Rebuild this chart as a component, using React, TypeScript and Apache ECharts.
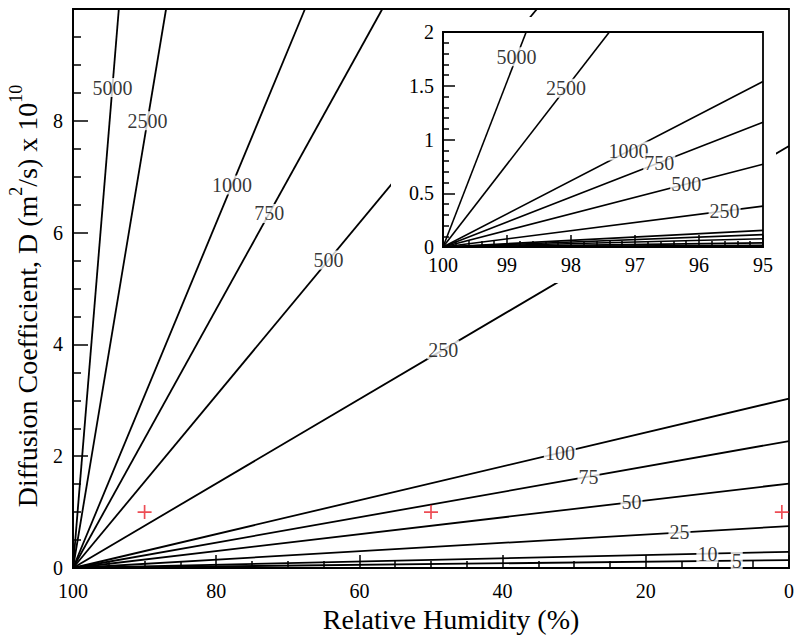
import React, { useEffect, useRef } from "react";
import * as echarts from "echarts";

// Contour levels (labels of the lines)
const levels = ["5000", "2500", "1000", "750", "500", "250", "100", "75", "50", "25", "10", "5"];
// Main panel: where each line leaves the frame (RH %, D x 1e10)
const mainEndRH = [93.6, 87.0, 67.6, 56.8, 35.2, 0, 0, 0, 0, 0, 0, 0];
const mainEndD = [10, 10, 10, 10, 10, 7.55, 3.03, 2.27, 1.51, 0.75, 0.29, 0.14];
// Main panel: RH at which each label sits on its line
const mainLabelRH = [94.5, 89.6, 77.8, 72.6, 64.3, 48.3, 32, 28, 22, 15.3, 11.4, 7.3];
// Inset panel: end of each line
const insetEndRH = [98.7, 97.4, 95, 95, 95, 95, 95, 95, 95, 95, 95, 95];
const insetEndD = [2, 2, 1.54, 1.16, 0.77, 0.38, 0.155, 0.115, 0.077, 0.038, 0.015, 0.008];
// Inset labels (first six levels)
const insetLabelRH = [98.85, 98.08, 97.1, 96.62, 96.2, 95.6];
// Red markers
const markerRH = [90, 50, 1];
const markerD = [1, 1, 1];

const START_RH = 100;
const START_D = 0;
const SERIF = "Liberation Serif";

function dOnLine(endRH: number, endD: number, rh: number) {
  return START_D + ((endD - START_D) * (START_RH - rh)) / (START_RH - endRH);
}

export default function App() {
  const ref = useRef<HTMLDivElement>(null);
  useEffect(() => {
    if (!ref.current) return;
    const chart = echarts.init(ref.current, null, { renderer: "svg" });

    const lineStyle = { color: "#000", width: 1.8 };
    const series: any[] = [];

    levels.forEach((lv, i) => {
      series.push({
        type: "line",
        xAxisIndex: 0,
        yAxisIndex: 0,
        data: [
          [START_RH, START_D],
          [mainEndRH[i], mainEndD[i]],
        ],
        showSymbol: false,
        symbol: "none",
        lineStyle,
        clip: true,
        z: 2,
        silent: true,
      });
      series.push({
        type: "line",
        xAxisIndex: 1,
        yAxisIndex: 1,
        data: [
          [START_RH, START_D],
          [insetEndRH[i], insetEndD[i]],
        ],
        showSymbol: false,
        symbol: "none",
        lineStyle: { color: "#000", width: 1.6 },
        clip: true,
        z: 7,
        silent: true,
      });
    });

    const labelStyle = {
      show: true,
      position: "inside",
      color: "#000",
      fontFamily: SERIF,
      fontSize: 20,
      backgroundColor: "#fff",
      padding: [0, 1, -1, 1],
      formatter: (p: any) => p.data[2],
    };

    series.push({
      type: "scatter",
      xAxisIndex: 0,
      yAxisIndex: 0,
      symbolSize: 0,
      data: levels.map((lv, i) => [mainLabelRH[i], dOnLine(mainEndRH[i], mainEndD[i], mainLabelRH[i]), lv]),
      label: labelStyle,
      z: 3,
      silent: true,
    });

    series.push({
      type: "scatter",
      xAxisIndex: 1,
      yAxisIndex: 1,
      symbolSize: 0,
      data: insetLabelRH.map((rh, i) => [rh, dOnLine(insetEndRH[i], insetEndD[i], rh), levels[i]]),
      label: labelStyle,
      z: 8,
      silent: true,
    });

    series.push({
      type: "scatter",
      xAxisIndex: 0,
      yAxisIndex: 0,
      symbol: "path://M4.4,0 H5.6 V4.4 H10 V5.6 H5.6 V10 H4.4 V5.6 H0 V4.4 H4.4 Z",
      symbolSize: 14,
      itemStyle: { color: "#e8202a" },
      data: markerRH.map((rh, i) => [rh, markerD[i]]),
      z: 3,
      silent: true,
    });

    const tickLabel = { color: "#000", fontFamily: SERIF, fontSize: 20 };
    const axisLine = { show: true, onZero: false, lineStyle: { color: "#000", width: 1.8 } };
    const tickStyle = { color: "#000", width: 1.5 };

    chart.setOption({
      animation: false,
      backgroundColor: "#fff",
      grid: [
        { left: 73, right: 11, top: 9, bottom: 74, show: true, borderColor: "#000", borderWidth: 1.8, backgroundColor: "transparent" },
        { left: 443, right: 37, top: 32, bottom: 395, show: true, borderColor: "#000", borderWidth: 1.8, backgroundColor: "#fff", z: 5 },
      ],
      xAxis: [
        {
          type: "value",
          gridIndex: 0,
          position: "bottom",
          min: 0,
          max: 100,
          interval: 20,
          inverse: true,
          axisLine,
          axisTick: { show: true, inside: true, length: 13, lineStyle: tickStyle },
          minorTick: { show: true, splitNumber: 4, length: 7, lineStyle: tickStyle },
          splitLine: { show: false },
          axisLabel: { ...tickLabel, margin: 13 },
        },
        {
          type: "value",
          gridIndex: 1,
          position: "bottom",
          min: 95,
          max: 100,
          interval: 1,
          inverse: true,
          z: 6,
          axisLine,
          axisTick: { show: true, inside: true, length: 12, lineStyle: tickStyle },
          minorTick: { show: true, splitNumber: 5, length: 6, lineStyle: tickStyle },
          splitLine: { show: false },
          axisLabel: { ...tickLabel, margin: 8 },
        },
      ],
      yAxis: [
        {
          type: "value",
          gridIndex: 0,
          position: "left",
          min: 0,
          max: 10,
          interval: 2,
          axisLine,
          axisTick: { show: true, inside: true, length: 15, lineStyle: tickStyle },
          minorTick: { show: true, splitNumber: 4, length: 8, lineStyle: tickStyle },
          splitLine: { show: false },
          axisLabel: { ...tickLabel, margin: 10, showMaxLabel: false },
        },
        {
          type: "value",
          gridIndex: 1,
          position: "left",
          min: 0,
          max: 2,
          interval: 0.5,
          z: 6,
          axisLine,
          axisTick: { show: true, inside: true, length: 12, lineStyle: tickStyle },
          minorTick: { show: true, splitNumber: 5, length: 6, lineStyle: tickStyle },
          splitLine: { show: false },
          axisLabel: { ...tickLabel, margin: 9 },
        },
      ],
      graphic: [
        {
          type: "rect",
          z: 4,
          silent: true,
          shape: { x: 391, y: 17, width: 385, height: 266 },
          style: { fill: "#fff" },
        },
        {
          type: "text",
          x: 451,
          y: 619,
          z: 10,
          silent: true,
          style: {
            text: "Relative Humidity (%)",
            fill: "#000",
            font: "28px " + SERIF,
            align: "center",
            verticalAlign: "middle",
          },
        },
        {
          type: "text",
          x: 24,
          y: 296,
          z: 10,
          rotation: Math.PI / 2,
          silent: true,
          style: {
            text: "{n|Diffusion Coefficient, D (m}{s|2}{n|/s) x 10}{s|10}",
            fill: "#000",
            align: "center",
            verticalAlign: "middle",
            rich: {
              n: { fontSize: 28, fontFamily: SERIF, color: "#000", lineHeight: 34, verticalAlign: "bottom" },
              s: { fontSize: 18, fontFamily: SERIF, color: "#000", verticalAlign: "top" },
            },
          },
        },
      ],
      series,
    });

    return () => chart.dispose();
  }, []);

  return (
    <div
      ref={ref}
      style={{ position: "fixed", left: 0, top: 0, width: 800, height: 642, background: "#fff" }}
    />
  );
}
